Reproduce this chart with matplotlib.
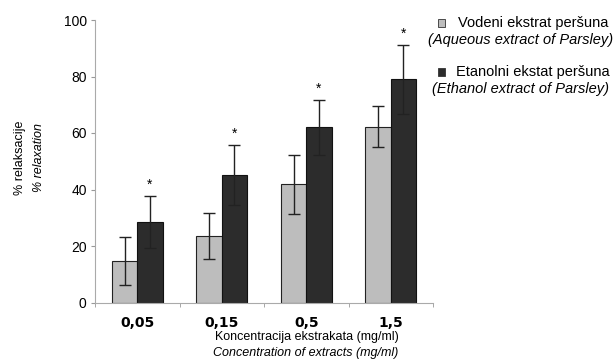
import numpy as np
import matplotlib.pyplot as plt
from matplotlib.patches import Rectangle

# data
categories = ["0,05", "0,15", "0,5", "1,5"]
aqueous = [14.7, 23.5, 41.8, 62.2]
aqueous_err = [8.4, 8.1, 10.3, 7.2]
ethanol = [28.6, 45.0, 62.0, 79.1]
ethanol_err = [9.2, 10.6, 9.8, 12.2]
significant = ["*", "*", "*", "*"]

plt.rcParams["font.family"] = ["Liberation Sans", "DejaVu Sans"]

fig = plt.figure(figsize=(6.15, 3.59), dpi=100)
ax = fig.add_axes([95 / 615, 1 - 302.5 / 359, 338 / 615, 282.5 / 359])

x = np.arange(len(categories))
w = 0.3
light = "#bdbdbd"
dark = "#2c2c2c"

ax.bar(x - w / 2, aqueous, w, color=light, edgecolor="#222222", linewidth=0.8,
       yerr=aqueous_err, capsize=4, error_kw=dict(elinewidth=1, capthick=1, ecolor="#222222"))
ax.bar(x + w / 2, ethanol, w, color=dark, edgecolor="#111111", linewidth=0.8,
       yerr=ethanol_err, capsize=4, error_kw=dict(elinewidth=1, capthick=1, ecolor="#222222"))

for xi, v, e, s in zip(x, ethanol, ethanol_err, significant):
    ax.text(xi + w / 2, v + e + 1.5, s, ha="center", va="bottom", fontsize=10)

ax.set_xlim(-0.5, len(categories) - 0.5)
ax.set_ylim(0, 100)
ax.set_yticks([0, 20, 40, 60, 80, 100])
ax.set_xticks(x)
ax.set_xticklabels(categories, fontsize=10, fontweight="bold", family="DejaVu Sans")
ax.set_xticks(np.arange(-0.5, len(categories)), minor=True)
ax.tick_params(axis="x", which="major", length=0, pad=10)
ax.tick_params(axis="x", which="minor", length=3, color="#999999")
ax.tick_params(axis="y", length=3, color="#999999", labelsize=10, pad=3)

for side in ["top", "right"]:
    ax.spines[side].set_visible(False)
for side in ["left", "bottom"]:
    ax.spines[side].set_color("#aaaaaa")
    ax.spines[side].set_linewidth(0.8)

# axis titles (two languages)
fig.text(20 / 615, 1 - 158 / 359, "% relaksacije", rotation=90, ha="center", va="center", fontsize=9)
fig.text(39 / 615, 1 - 158 / 359, "% relaxation", rotation=90, ha="center", va="center",
         fontsize=9, style="italic")
fig.text(307 / 615, 1 - 337 / 359, "Koncentracija ekstrakata (mg/ml)", ha="center", va="center", fontsize=9)
fig.text(306 / 615, 1 - 353 / 359, "Concentration of extracts (mg/ml)", ha="center", va="center",
         fontsize=9, style="italic")

# legend
legend_rows = [
    (light, "Vodeni ekstrat peršuna", "(Aqueous extract of Parsley)", 23),
    (dark, "Etanolni ekstat peršuna", "(Ethanol extract of Parsley)", 72),
]
for col, l1, l2, yy in legend_rows:
    fig.add_artist(Rectangle(((441 - 3.5) / 615, 1 - (yy + 3.5) / 359), 7 / 615, 7 / 359,
                             transform=fig.transFigure, facecolor=col, edgecolor="#333333", linewidth=0.6))
    fig.text(533 / 615, 1 - yy / 359, l1, ha="center", va="center", fontsize=10.5)
    fig.text(521 / 615, 1 - (yy + 17) / 359, l2, ha="center", va="center", fontsize=10.5, style="italic")

plt.savefig("out.png", dpi=100)
